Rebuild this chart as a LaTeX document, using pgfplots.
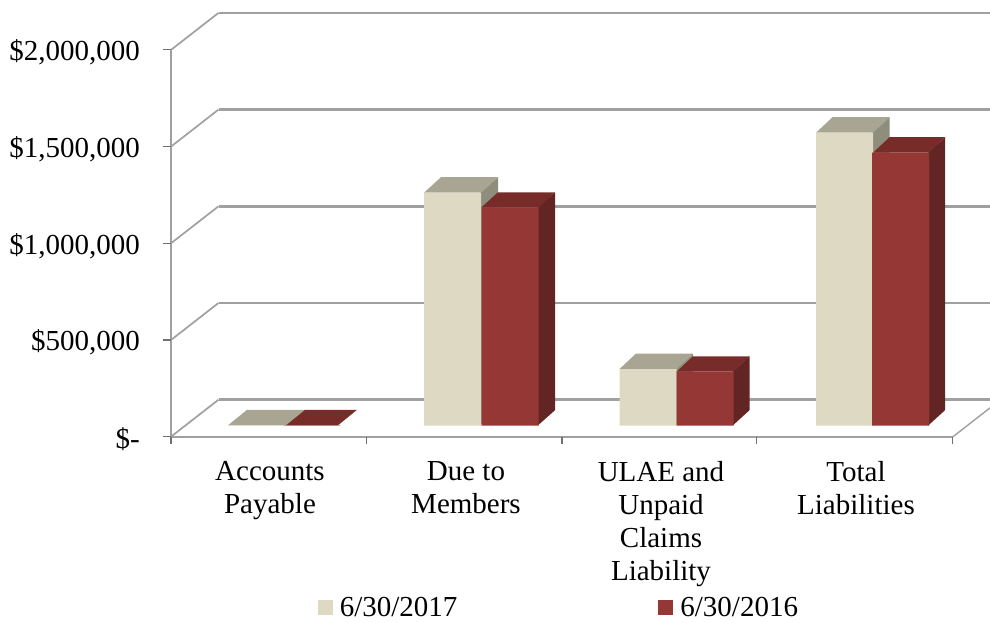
\documentclass[border=0pt]{standalone}
\usepackage{fontspec}
\setmainfont{Liberation Serif}
\usepackage{pgfplots}
\usepackage{pgfplotstable}
\pgfplotsset{compat=1.18}
\definecolor{cf}{HTML}{DDD9C3}
\definecolor{ct}{HTML}{A8A693}
\definecolor{cs}{HTML}{8F8E7C}
\definecolor{rf}{HTML}{953735}
\definecolor{rt}{HTML}{772C2A}
\definecolor{rs}{HTML}{632523}
\definecolor{gl}{HTML}{A0A0A0}
\pgfplotstableread{
x v
257 2000
452.5 1204700
648 293000
844.5 1515000
}\cream
\pgfplotstableread{
x v
312 2000
510 1127000
705 279000
900.5 1411500
}\red
\newcommand{\lbl}{\fontsize{29}{33}\selectfont}
\pgfplotsset{base/.style={
  scale only axis, width=990pt, height=623pt,
  xmin=0, xmax=990,
  separate axis lines, axis line style={draw=none},
  major tick length=0pt, tick style={draw=none},
  tick label style={font=\lbl},
}}
\begin{document}
\begin{tikzpicture}
% walls, ticks and value labels: y = 0 on the front edge
\begin{axis}[base,
  ymin=-963283, ymax=2258000,
  xtick=\empty, axis y line*=left,
  ytick={0,500000,1000000,1500000,2000000},
  yticklabels={{\$-},{\$500,000},{\$1,000,000},{\$1,500,000},{\$2,000,000}},
  yticklabel style={anchor=east, xshift=140pt, yshift=-2.5pt, inner sep=0pt},
  scaled y ticks=false,
]
\addplot[gl,line width=2.7pt,forget plot] coordinates {(218.5,191300)(990,191300)};
\addplot[gl,line width=2.7pt,forget plot] coordinates {(218.5,691300)(990,691300)};
\addplot[gl,line width=2.7pt,forget plot] coordinates {(218.5,1191300)(990,1191300)};
\addplot[gl,line width=2.7pt,forget plot] coordinates {(218.5,1691300)(990,1691300)};
\addplot[gl,line width=2.7pt,forget plot] coordinates {(218.5,2191300)(990,2191300)};
\addplot[gl,line width=1.7pt,forget plot] coordinates {(171,0)(218.5,191300)};
\addplot[gl,line width=1.7pt,forget plot] coordinates {(171,500000)(218.5,691300)};
\addplot[gl,line width=1.7pt,forget plot] coordinates {(171,1000000)(218.5,1191300)};
\addplot[gl,line width=1.7pt,forget plot] coordinates {(171,1500000)(218.5,1691300)};
\addplot[gl,line width=1.7pt,forget plot] coordinates {(171,2000000)(218.5,2191300)};
\addplot[gl,line width=2pt,forget plot] coordinates {(171,0)(171,2000000)};
\addplot[gl,line width=2pt,forget plot] coordinates {(171,0)(953,0)};
\addplot[gl,line width=1.4pt,forget plot] coordinates {(953,0)(990,149000)};
\addplot[gl!70!black,line width=1.2pt,forget plot] coordinates {(163,0)(171,0)};
\addplot[gl!70!black,line width=1.2pt,forget plot] coordinates {(163,500000)(171,500000)};
\addplot[gl!70!black,line width=1.2pt,forget plot] coordinates {(163,1000000)(171,1000000)};
\addplot[gl!70!black,line width=1.2pt,forget plot] coordinates {(163,1500000)(171,1500000)};
\addplot[gl!70!black,line width=1.2pt,forget plot] coordinates {(163,2000000)(171,2000000)};
\addplot[gl!70!black,line width=1.2pt,forget plot] coordinates {(171,0)(171,-40000)};
\addplot[gl!70!black,line width=1.2pt,forget plot] coordinates {(366.7,0)(366.7,-40000)};
\addplot[gl!70!black,line width=1.2pt,forget plot] coordinates {(562,0)(562,-40000)};
\addplot[gl!70!black,line width=1.2pt,forget plot] coordinates {(756.7,0)(756.7,-40000)};
\addplot[gl!70!black,line width=1.2pt,forget plot] coordinates {(952.7,0)(952.7,-40000)};
\end{axis}
% bars: y = 0 on the bars' base
\begin{axis}[base,
  ymin=-1020170, ymax=2201125,
  ytick=\empty,
  xtick={270,466,661,856},
  xticklabels={{Accounts\\Payable},{Due to\\Members},{ULAE and\\Unpaid\\Claims\\Liability},{Total\\Liabilities}},
  xticklabel style={align=center, anchor=north, yshift=161.5pt, inner sep=0pt},
  legend columns=2,
  legend cell align=left,
  legend style={draw=none, fill=none, font=\lbl, anchor=west, at={(0.321,0.0245)},
    inner sep=0pt, outer sep=0pt,
    /tikz/every odd column/.append style={column sep=5pt},
    /tikz/every even column/.append style={column sep=199pt}},
  legend image code/.code={\fill[#1] (0pt,-7.5pt) rectangle (15pt,7.5pt);},
]
% Accounts Payable
\addplot[fill=ct,draw=none,forget plot] coordinates {(228,2000)(286,2000)(305,82000)(247,82000)} -- cycle;
\addplot[fill=rt,draw=none,forget plot] coordinates {(286,2000)(338,2000)(357,82000)(305,82000)} -- cycle;
% Due to Members
\addplot[fill=cs,draw=none,forget plot] coordinates {(480,0)(498,80000)(498,1284700)(480,1204700)} -- cycle;
\addplot[fill=ct,draw=none,forget plot] coordinates {(424,1204700)(481,1204700)(498,1284700)(441,1284700)} -- cycle;
\addplot[fill=rs,draw=none,forget plot] coordinates {(537.5,0)(555,80000)(555,1207000)(537.5,1127000)} -- cycle;
\addplot[fill=rt,draw=none,forget plot] coordinates {(481,1127000)(538.5,1127000)(555,1207000)(498,1207000)} -- cycle;
% ULAE
\addplot[fill=cs,draw=none,forget plot] coordinates {(676,0)(693,80000)(693,373000)(676,293000)} -- cycle;
\addplot[fill=ct,draw=none,forget plot] coordinates {(619.5,293000)(676.5,293000)(693,373000)(636,373000)} -- cycle;
\addplot[fill=rs,draw=none,forget plot] coordinates {(732.5,0)(749.5,80000)(749.5,359000)(732.5,279000)} -- cycle;
\addplot[fill=rt,draw=none,forget plot] coordinates {(676.5,279000)(733,279000)(749.5,359000)(693,359000)} -- cycle;
% Total Liabilities
\addplot[fill=cs,draw=none,forget plot] coordinates {(872,0)(889.5,80000)(889.5,1595000)(872,1515000)} -- cycle;
\addplot[fill=ct,draw=none,forget plot] coordinates {(816,1515000)(873,1515000)(889.5,1595000)(832.5,1595000)} -- cycle;
\addplot[fill=rs,draw=none,forget plot] coordinates {(928,0)(945,80000)(945,1491500)(928,1411500)} -- cycle;
\addplot[fill=rt,draw=none,forget plot] coordinates {(873,1411500)(928.5,1411500)(945,1491500)(889.5,1491500)} -- cycle;
% fronts
\addplot[ybar,bar shift=0pt,bar width=57,fill=cf,draw=none] table[x=x,y=v] {\cream};
\addplot[ybar,bar shift=0pt,bar width=57,fill=rf,draw=none] table[x=x,y=v] {\red};
\legend{6/30/2017,6/30/2016}
\end{axis}
\end{tikzpicture}
\end{document}
